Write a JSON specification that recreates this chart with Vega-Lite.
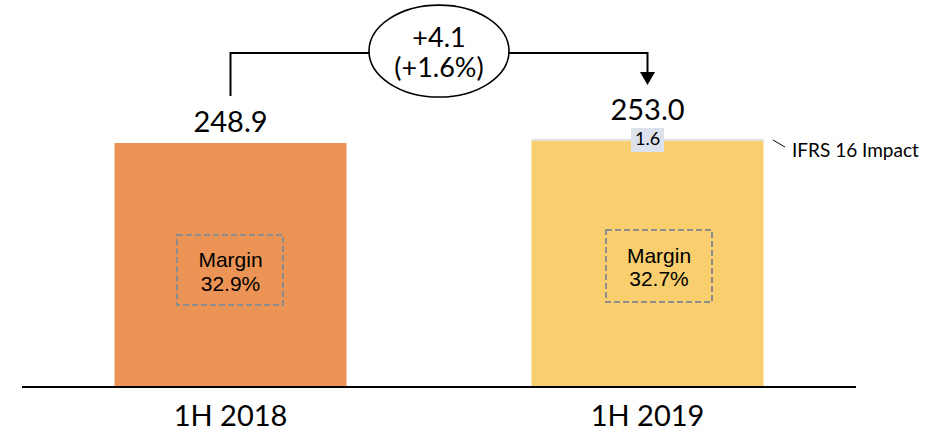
{
  "$schema": "https://vega.github.io/schema/vega-lite/v6.json",
  "width": 834,
  "height": 433,
  "autosize": {"type": "none"},
  "padding": {"left": 22, "top": 0, "right": 88, "bottom": 0},
  "background": "white",
  "config": {"view": {"stroke": null}},
  "datasets": {
    "bars": [
      {"x": 1, "period": "1H 2018", "segment": "1H 2018", "value": 248.9},
      {"x": 2, "period": "1H 2019", "segment": "1H 2019", "value": 251.4},
      {"x": 2, "period": "1H 2019", "segment": "IFRS 16 Impact", "value": 1.6}
    ],
    "baseline": [{"y": 0}],
    "categories": [
      {"x": 1, "text": "1H 2018"},
      {"x": 2, "text": "1H 2019"}
    ],
    "totals": [
      {"x": 1, "y": 260.1, "text": "248.9"},
      {"x": 2, "y": 272.4, "text": "253.0"}
    ],
    "marginBoxes": [
      {"x": 0.8717, "x2": 1.1259, "y": 155.1, "y2": 83.6},
      {"x": 1.9005, "x2": 2.1547, "y": 160.2, "y2": 86.7}
    ],
    "marginText": [
      {"x": 1, "y": 122.9, "text": "Margin"},
      {"x": 1, "y": 98.4, "text": "32.9%"},
      {"x": 2.0276, "y": 127.0, "text": "Margin"},
      {"x": 2.0276, "y": 103.0, "text": "32.7%"}
    ],
    "connector": [
      {"x": 1, "y": 297.9, "o": 1},
      {"x": 1, "y": 340.7, "o": 2},
      {"x": 2, "y": 340.7, "o": 3},
      {"x": 2, "y": 320.0, "o": 4}
    ],
    "arrow": [{"x": 2, "y": 314.7}],
    "bubble": [{"x": 1.5, "y": 342.7}],
    "bubbleText": [
      {"x": 1.5, "y": 347.3, "text": "+4.1"},
      {"x": 1.5, "y": 316.7, "text": "(+1.6%)"}
    ],
    "ifrsBox": [{"x": 2, "y": 252.0, "text": "1.6"}],
    "ifrsLabel": [{"x": 2.3465, "y": 234.6, "text": "IFRS 16 Impact"}],
    "ifrsTick": [{"x": 2.301, "y": 252.0, "x2": 2.3297, "y2": 244.8}]
  },
  "layer": [
    {
      "data": {"name": "bars"},
      "mark": {"type": "bar", "size": 232, "orient": "vertical"},
      "encoding": {
        "x": {"field": "x", "type": "quantitative", "scale": {"domain": [0.5, 2.5], "nice": false, "zero": false, "padding": 0}, "axis": null},
        "y": {"field": "value", "type": "quantitative", "stack": "zero", "scale": {"domain": [-46.9, 394.8], "nice": false, "zero": false, "padding": 0}, "axis": null},
        "color": {"field": "segment", "type": "nominal", "scale": {"domain": ["1H 2018", "1H 2019", "IFRS 16 Impact"], "range": ["#EC9455", "#F9CE6E", "#D9DFEA"]}, "legend": null},
        "order": {"field": "segment", "sort": "ascending"}
      }
    },
    {
      "data": {"name": "baseline"},
      "mark": {"type": "rule", "color": "black", "strokeWidth": 2},
      "encoding": {"y": {"field": "y", "type": "quantitative"}}
    },
    {
      "data": {"name": "categories"},
      "mark": {"type": "text", "font": "Lato", "fontSize": 29, "color": "black", "baseline": "alphabetic", "align": "center"},
      "encoding": {
        "x": {"field": "x", "type": "quantitative"},
        "y": {"datum": -39.8, "type": "quantitative"},
        "text": {"field": "text"}
      }
    },
    {
      "data": {"name": "totals"},
      "mark": {"type": "text", "font": "Lato", "fontSize": 29, "color": "black", "baseline": "alphabetic", "align": "center"},
      "encoding": {
        "x": {"field": "x", "type": "quantitative"},
        "y": {"field": "y", "type": "quantitative"},
        "text": {"field": "text"}
      }
    },
    {
      "data": {"name": "marginBoxes"},
      "mark": {"type": "rect", "fill": null, "fillOpacity": 0, "stroke": "#8C8C8C", "strokeWidth": 2, "strokeDash": [6, 3]},
      "encoding": {
        "x": {"field": "x", "type": "quantitative"},
        "x2": {"field": "x2"},
        "y": {"field": "y", "type": "quantitative"},
        "y2": {"field": "y2"}
      }
    },
    {
      "data": {"name": "marginText"},
      "mark": {"type": "text", "font": "Liberation Sans", "fontSize": 21, "color": "black", "baseline": "alphabetic", "align": "center"},
      "encoding": {
        "x": {"field": "x", "type": "quantitative"},
        "y": {"field": "y", "type": "quantitative"},
        "text": {"field": "text"}
      }
    },
    {
      "data": {"name": "connector"},
      "mark": {"type": "line", "color": "black", "strokeWidth": 2, "strokeCap": "square", "strokeJoin": "miter"},
      "encoding": {
        "x": {"field": "x", "type": "quantitative"},
        "y": {"field": "y", "type": "quantitative"},
        "order": {"field": "o", "type": "quantitative"}
      }
    },
    {
      "data": {"name": "arrow"},
      "mark": {"type": "point", "shape": "M-1,-0.87L1,-0.87L0,0.87Z", "size": 225, "filled": true, "fill": "black", "opacity": 1, "strokeWidth": 0},
      "encoding": {
        "x": {"field": "x", "type": "quantitative"},
        "y": {"field": "y", "type": "quantitative"}
      }
    },
    {
      "data": {"name": "bubble"},
      "mark": {"type": "point", "shape": "M-1,0C-1,-0.363,-0.552,-0.657,0,-0.657C0.552,-0.657,1,-0.363,1,0C1,0.363,0.552,0.657,0,0.657C-0.552,0.657,-1,0.363,-1,0Z", "size": 19600, "fill": "white", "fillOpacity": 1, "stroke": "black", "strokeWidth": 1.6, "opacity": 1},
      "encoding": {
        "x": {"field": "x", "type": "quantitative"},
        "y": {"field": "y", "type": "quantitative"}
      }
    },
    {
      "data": {"name": "bubbleText"},
      "mark": {"type": "text", "font": "Lato", "fontSize": 27, "color": "black", "baseline": "alphabetic", "align": "center"},
      "encoding": {
        "x": {"field": "x", "type": "quantitative"},
        "y": {"field": "y", "type": "quantitative"},
        "text": {"field": "text"}
      }
    },
    {
      "data": {"name": "ifrsBox"},
      "mark": {"type": "point", "shape": "M-1,-0.727L1,-0.727L1,0.727L-1,0.727Z", "size": 1089, "filled": true, "fill": "#DCE2EC", "opacity": 1, "strokeWidth": 0},
      "encoding": {
        "x": {"field": "x", "type": "quantitative"},
        "y": {"field": "y", "type": "quantitative"}
      }
    },
    {
      "data": {"name": "ifrsBox"},
      "mark": {"type": "text", "font": "Lato", "fontSize": 18, "color": "black", "baseline": "middle", "align": "center"},
      "encoding": {
        "x": {"field": "x", "type": "quantitative"},
        "y": {"field": "y", "type": "quantitative"},
        "text": {"field": "text"}
      }
    },
    {
      "data": {"name": "ifrsTick"},
      "mark": {"type": "rule", "color": "black", "strokeWidth": 1},
      "encoding": {
        "x": {"field": "x", "type": "quantitative"},
        "x2": {"field": "x2"},
        "y": {"field": "y", "type": "quantitative"},
        "y2": {"field": "y2"}
      }
    },
    {
      "data": {"name": "ifrsLabel"},
      "mark": {"type": "text", "font": "Lato", "fontSize": 19, "color": "black", "baseline": "alphabetic", "align": "left"},
      "encoding": {
        "x": {"field": "x", "type": "quantitative"},
        "y": {"field": "y", "type": "quantitative"},
        "text": {"field": "text"}
      }
    }
  ]
}
